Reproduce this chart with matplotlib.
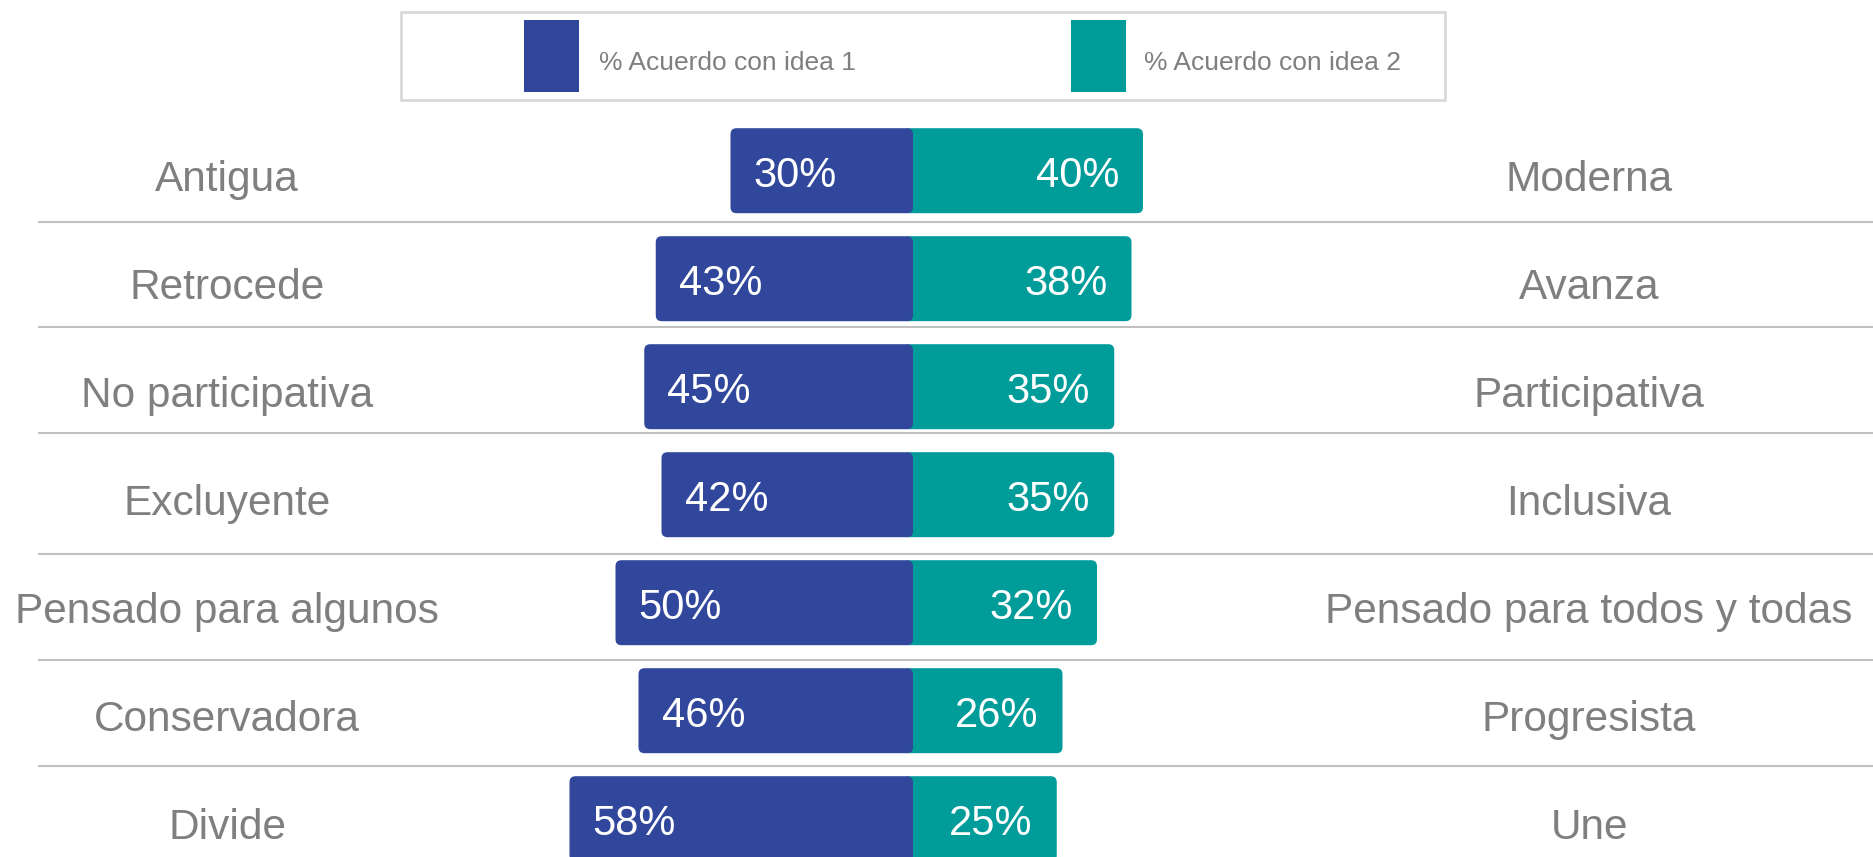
import matplotlib
matplotlib.use('Agg')
import matplotlib.pyplot as plt
from matplotlib.patches import FancyBboxPatch, Rectangle

plt.rcParams['font.family'] = ['Liberation Sans', 'DejaVu Sans']

# data
left_labels = ['Antigua', 'Retrocede', 'No participativa', 'Excluyente',
               'Pensado para algunos', 'Conservadora', 'Divide']
right_labels = ['Moderna', 'Avanza', 'Participativa', 'Inclusiva',
                'Pensado para todos y todas', 'Progresista', 'Une']
idea1 = [30, 43, 45, 42, 50, 46, 58]
idea2 = [40, 38, 35, 35, 32, 26, 25]
legend_labels = ['% Acuerdo con idea 1', '% Acuerdo con idea 2']

blue = '#31479c'
teal = '#009c9a'
grey = '#7f7f7f'
linegrey = '#c0c0c0'

W, H, dpi = 1873, 857, 100


def px2fig(x, y):
	return x / float(W), 1. - y / float(H)


def plot_bars():
	fig = plt.figure(figsize=(W / float(dpi), H / float(dpi)), dpi=dpi)
	ax = fig.add_axes([0, 0, 1, 1])
	ax.axis('off')

	#scales: px per percent, px per row
	xs, x0 = 5.75, 913.
	ys, y0 = 108., 170.7
	ax.set_xlim(-x0 / xs, (W - x0) / xs)
	ax.set_ylim((H - y0) / ys, -y0 / ys)

	barh = 0.787
	gap = 10. / xs		# blue zero sits a little left of the teal zero
	rnd = 6. / xs
	asp = xs / ys
	seps = [0.472, 1.450, 2.431, 3.549, 4.531, 5.509]

	for i in range(len(idea1)):
		v1, v2 = idea1[i], idea2[i]
		# teal bar (runs under the blue one)
		ax.add_patch(FancyBboxPatch((-gap, i - barh / 2), v2 + gap, barh,
			boxstyle='round,pad=0,rounding_size=%f' % rnd, mutation_aspect=asp,
			facecolor=teal, edgecolor='none', zorder=2))
		ax.add_patch(FancyBboxPatch((-gap - v1, i - barh / 2), v1 + gap, barh,
			boxstyle='round,pad=0,rounding_size=%f' % rnd, mutation_aspect=asp,
			facecolor=blue, edgecolor='none', zorder=3))
		ax.annotate('%d%%' % v1, xy=(-gap - v1, i + 0.155), xytext=(16.6, 0),
			textcoords='offset points', ha='left', va='baseline',
			color='white', fontsize=30, zorder=4)
		ax.annotate('%d%%' % v2, xy=(v2, i + 0.155), xytext=(-17.3, 0),
			textcoords='offset points', ha='right', va='baseline',
			color='white', fontsize=30, zorder=4)
		tr = ax.get_yaxis_transform()
		ax.text(227. / W, i + 0.185, left_labels[i], transform=tr, ha='center',
			va='baseline', color=grey, fontsize=30.5)
		ax.text(1589. / W, i + 0.185, right_labels[i], transform=tr, ha='center',
			va='baseline', color=grey, fontsize=30.5)

	for s in seps:
		ax.axhline(s, xmin=39. / W, xmax=1, color=linegrey, linewidth=1.5, zorder=1)

	#legend box drawn by hand
	bx, by = px2fig(401, 100)
	bw, bh = (1445 - 401) / float(W), (100 - 11.7) / float(H)
	fig.patches.append(Rectangle((bx, by), bw, bh, transform=fig.transFigure,
		facecolor='white', edgecolor='#d9d9d9', linewidth=2))
	for (sx, tx, c, lab) in [(524, 599, blue, legend_labels[0]), (1071, 1144, teal, legend_labels[1])]:
		rx, ry = px2fig(sx, 91.7)
		fig.patches.append(Rectangle((rx, ry), 55. / W, (91.7 - 20) / H,
			transform=fig.transFigure, facecolor=c, edgecolor='none'))
		lx, ly = px2fig(tx, 69.5)
		fig.text(lx, ly, lab, ha='left', va='baseline', color=grey, fontsize=19)

	plt.savefig('out.png', dpi=dpi)


if __name__ == "__main__":
	plot_bars()
